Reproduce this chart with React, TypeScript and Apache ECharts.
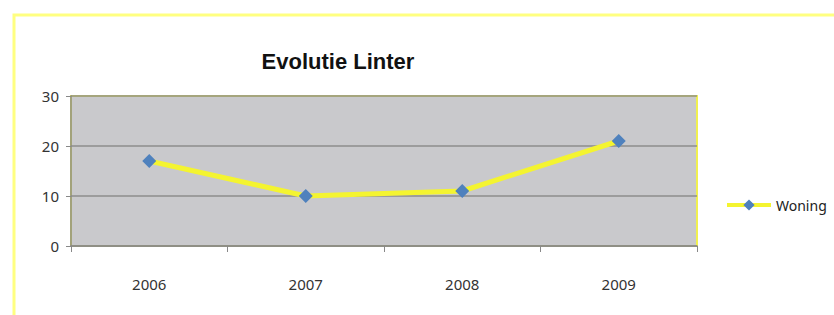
import React, { useEffect, useRef } from "react";
import * as echarts from "echarts";

const categories = ["2006", "2007", "2008", "2009"];
const woning = [17, 10, 11, 21];
const seriesName = "Woning";
const chartTitle = "Evolutie Linter";

export default function App() {
  const ref = useRef<HTMLDivElement>(null);
  useEffect(() => {
    document.body.style.margin = "0";
    const chart = echarts.init(ref.current!, null, { renderer: "svg" });
    chart.setOption({
      animation: false,
      backgroundColor: "#ffffff",
      title: {
        text: chartTitle,
        left: 333,
        top: 45,
        textAlign: "center",
        textStyle: {
          fontFamily: "'Liberation Sans Narrow', 'Arial Narrow', sans-serif",
          fontWeight: "bold",
          fontSize: 22,
          color: "#111111",
        },
      },
      graphic: [
        {
          type: "polyline",
          shape: { points: [[14, 315], [14, 15], [834, 15]] },
          style: { stroke: "#ffff80", lineWidth: 3, fill: "none" },
          silent: true,
        },
      ],
      legend: {
        left: 720,
        top: 193,
        itemWidth: 44,
        itemHeight: 14,
        itemGap: 4,
        textStyle: { fontFamily: "'Noto Sans', sans-serif", fontSize: 14, color: "#222" },
        data: [{ name: seriesName, lineStyle: { width: 4 } }],
      },
      grid: {
        left: 71,
        top: 96,
        width: 626,
        height: 150,
        show: true,
        backgroundColor: "#c9c9cc",
        borderColor: "#f0f050",
        borderWidth: 2,
      },
      xAxis: {
        type: "category",
        data: categories,
        boundaryGap: true,
        axisLine: { lineStyle: { color: "#888888", width: 1.5 } },
        axisTick: { show: true, length: 6, lineStyle: { color: "#888888" } },
        axisLabel: {
          margin: 30,
          fontFamily: "'Noto Sans', sans-serif",
          fontSize: 15,
          color: "#333",
        },
      },
      yAxis: {
        type: "value",
        min: 0,
        max: 30,
        interval: 10,
        axisLine: { show: true, lineStyle: { color: "#888888", width: 1.5 } },
        axisTick: { show: true, length: 5, lineStyle: { color: "#888888" } },
        splitLine: { lineStyle: { color: "#8c8c8c", width: 1.5 } },
        axisLabel: {
          margin: 12,
          fontFamily: "'Noto Sans', sans-serif",
          fontSize: 15,
          color: "#333",
        },
      },
      series: [
        {
          name: seriesName,
          type: "line",
          data: woning,
          symbol: "diamond",
          symbolSize: 14,
          itemStyle: { color: "#4f81bd" },
          lineStyle: { color: "#f4f430", width: 5 },
          z: 3,
        },
      ],
    });
    return () => chart.dispose();
  }, []);
  return <div ref={ref} style={{ width: 834, height: 315 }} />;
}
